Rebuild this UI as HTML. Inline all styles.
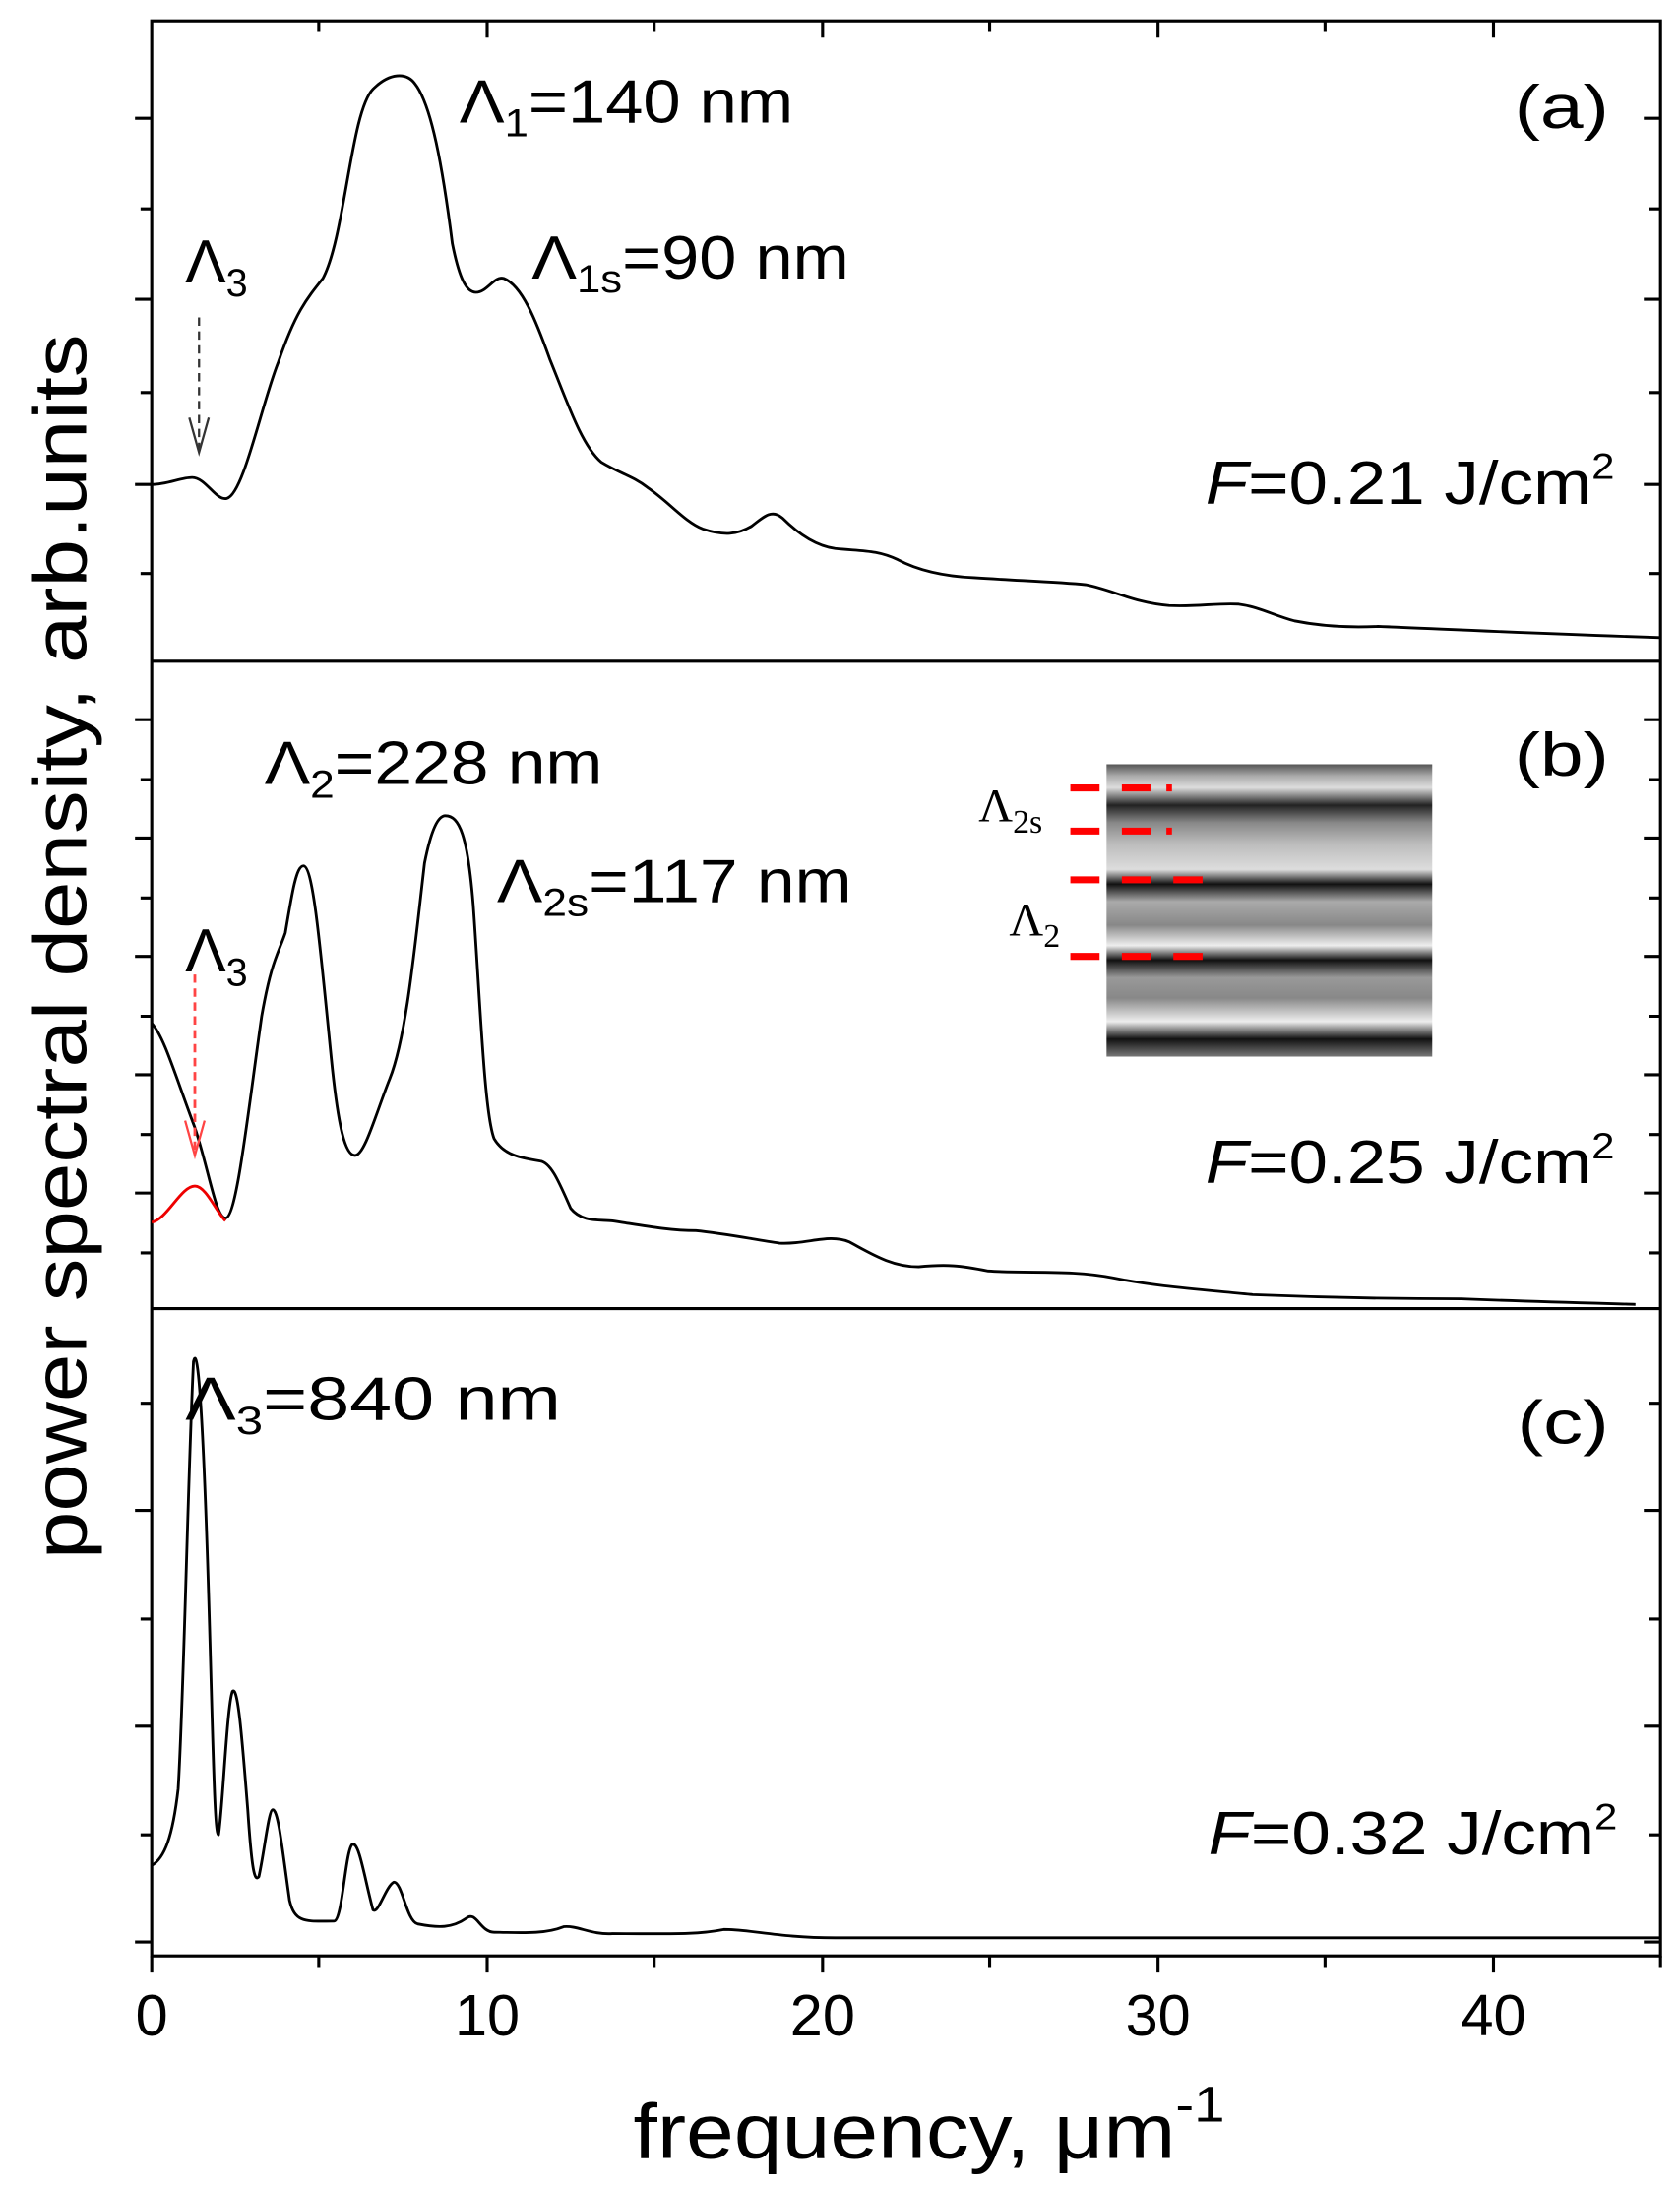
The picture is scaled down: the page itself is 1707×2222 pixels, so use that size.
<!DOCTYPE html>
<html><head><meta charset="utf-8"><style>
html,body{margin:0;padding:0;background:#fff;}
svg{display:block;}
text{font-family:"Liberation Sans",sans-serif;fill:#000;}
</style></head><body>
<svg width="1707" height="2222" viewBox="0 0 1207 1571" preserveAspectRatio="none" xmlns="http://www.w3.org/2000/svg">
<defs>
<linearGradient id="st" x1="0" y1="0" x2="0" y2="1">
<stop offset="0" stop-color="#555"/><stop offset="0.04" stop-color="#aaa"/><stop offset="0.08" stop-color="#ddd"/><stop offset="0.14" stop-color="#222"/>
<stop offset="0.2" stop-color="#888"/><stop offset="0.27" stop-color="#bbb"/><stop offset="0.36" stop-color="#ddd"/><stop offset="0.41" stop-color="#111"/>
<stop offset="0.47" stop-color="#aaa"/><stop offset="0.55" stop-color="#888"/><stop offset="0.62" stop-color="#eee"/><stop offset="0.67" stop-color="#111"/>
<stop offset="0.73" stop-color="#999"/><stop offset="0.8" stop-color="#888"/><stop offset="0.88" stop-color="#eee"/><stop offset="0.94" stop-color="#111"/><stop offset="1" stop-color="#777"/>
</linearGradient>
</defs>
<g stroke="#000" stroke-width="2.2" fill="none">
<rect x="109" y="15" width="1084" height="1390"/>
<line x1="109" y1="475" x2="1193" y2="475"/>
<line x1="109" y1="940" x2="1193" y2="940"/>
<path d="M97 85H109M101 150H109M97 215H109M101 282H109M97 348H109M101 412H109
M1181 85H1193M1185 150H1193M1181 215H1193M1185 282H1193M1181 348H1193M1185 412H1193
M97 517H109M101 560H109M97 602H109M101 645H109M97 687H109M101 730H109M97 772H109M101 815H109M97 857H109M101 900H109
M1181 517H1193M1185 560H1193M1181 602H1193M1185 645H1193M1181 687H1193M1185 730H1193M1181 772H1193M1185 815H1193M1181 857H1193M1185 900H1193
M97 1085H109M101 1008H109M97 1240H109M101 1163H109M97 1395H109M101 1318H109
M1181 1085H1193M1185 1008H1193M1181 1240H1193M1185 1163H1193M1181 1395H1193M1185 1318H1193
M109 1405V1417M229 1405V1413M350 1405V1417M470 1405V1413M591 1405V1417M711 1405V1413M832 1405V1417M952 1405V1413M1073 1405V1417M1193 1405V1413
M229 15V23M350 15V27M470 15V23M591 15V27M711 15V23M832 15V27M952 15V23M1073 15V27"/>
</g>
<g stroke="#000" stroke-width="2" fill="none" stroke-linejoin="round">
<path d="M109 348 C120 348,130 343,138 343 C148 343,155 360,163 358 C175 355,188 290,200 260 C212 225,220 215,232 200 C248 170,252 80,268 64 C280 52,292 52,298 60 C310 75,318 120,325 175 C330 200,335 210,342 210 C350 210,355 198,362 200 C375 205,385 230,395 258 C408 290,418 320,432 332 C445 340,455 342,465 350 C480 360,492 375,505 380 C520 385,530 384,540 378 C550 370,555 366,562 372 C572 382,585 392,600 394 C620 396,630 395,645 402 C660 410,680 414,700 415 C730 417,760 418,780 420 C800 424,815 433,840 435 C860 436,875 433,890 434 C905 436,915 442,930 446 C950 450,970 451,990 450 C1040 452,1100 455,1193 458"/>
<path d="M109 735 C118 745,125 770,140 810 C150 840,155 875,162 875 C170 875,178 800,188 730 C195 690,200 685,205 670 C210 640,213 622,218 622 C225 622,230 680,238 760 C243 810,248 830,255 830 C262 830,270 800,280 775 C292 745,298 680,305 620 C310 595,315 586,320 586 C330 586,336 600,340 650 C345 720,348 800,355 818 C362 830,375 832,388 834 C396 835,402 850,410 868 C418 878,430 876,440 877 C460 880,480 884,500 884 C520 886,540 890,560 893 C580 894,595 886,610 892 C625 900,640 910,660 910 C680 908,690 909,710 913 C740 915,770 912,800 918 C830 924,860 926,900 930 C950 932,1000 933,1050 933 C1100 935,1140 936,1175 937"/>
<path d="M109 1340 C118 1335,124 1320,128 1285 C132 1220,135 1060,139 978 C143 960,147 1050,150 1150 C153 1250,154 1318,157 1318 C160 1300,163 1225,167 1215 C171 1210,174 1250,178 1300 C181 1345,183 1352,186 1348 C190 1330,193 1300,196 1300 C200 1300,203 1330,208 1365 C212 1382,220 1380,240 1380 C246 1380,248 1330,253 1325 C258 1322,262 1350,268 1372 C272 1375,277 1355,283 1352 C289 1352,292 1380,300 1382 C315 1385,325 1385,335 1378 C342 1372,345 1388,355 1388 C370 1388,390 1390,405 1384 C415 1383,425 1390,440 1389 C480 1389,500 1390,520 1386 C540 1386,560 1392,600 1392 C800 1392,1000 1392,1193 1392"/>
</g>
<path d="M109 878 C120 876,130 852,140 852 C148 852,155 870,162 877" stroke="#e00" stroke-width="2" fill="none"/>
<g fill="none" stroke-width="1.6">
<path d="M143 228V322" stroke="#333" stroke-dasharray="6,4"/>
<path d="M136 300L143 325L150 300" stroke="#333"/>
<path d="M140 700V830" stroke="#f44" stroke-dasharray="6,4" stroke-width="2"/>
<path d="M133 805L140 830L147 805" stroke="#f44"/>
</g>
<rect x="795" y="549" width="234" height="210" fill="url(#st)"/>
<g stroke="#f00" stroke-width="5">
<path d="M769 566H790M806 566H827M838 566H842M769 597H790M806 597H827M838 597H842M769 632H790M806 632H827M843 632H864M769 687H790M806 687H827M843 687H864"/>
</g>
<g font-size="44">
<text x="330" y="88" textLength="240" lengthAdjust="spacingAndGlyphs">Λ<tspan font-size="28" dy="10">1</tspan><tspan dy="-10">=140 nm</tspan></text>
<text x="382" y="200" textLength="228" lengthAdjust="spacingAndGlyphs">Λ<tspan font-size="28" dy="10">1s</tspan><tspan dy="-10">=90 nm</tspan></text>
<text x="1088" y="92" textLength="68" lengthAdjust="spacingAndGlyphs">(a)</text>
<text x="133" y="203">Λ<tspan font-size="28" dy="10">3</tspan></text>
<text x="866" y="362" textLength="294" lengthAdjust="spacingAndGlyphs"><tspan font-style="italic">F</tspan>=0.21 J/cm<tspan font-size="26" dy="-18">2</tspan></text>
<text x="190" y="563" textLength="243" lengthAdjust="spacingAndGlyphs">Λ<tspan font-size="28" dy="10">2</tspan><tspan dy="-10">=228 nm</tspan></text>
<text x="357" y="648" textLength="255" lengthAdjust="spacingAndGlyphs">Λ<tspan font-size="28" dy="10">2s</tspan><tspan dy="-10">=117 nm</tspan></text>
<text x="1088" y="557" textLength="68" lengthAdjust="spacingAndGlyphs">(b)</text>
<text x="133" y="698">Λ<tspan font-size="28" dy="10">3</tspan></text>
<text x="866" y="850" textLength="294" lengthAdjust="spacingAndGlyphs"><tspan font-style="italic">F</tspan>=0.25 J/cm<tspan font-size="26" dy="-18">2</tspan></text>
<text x="133" y="1020" textLength="270" lengthAdjust="spacingAndGlyphs">Λ<tspan font-size="28" dy="10">3</tspan><tspan dy="-10">=840 nm</tspan></text>
<text x="1090" y="1037" textLength="66" lengthAdjust="spacingAndGlyphs">(c)</text>
<text x="868" y="1332" textLength="294" lengthAdjust="spacingAndGlyphs"><tspan font-style="italic">F</tspan>=0.32 J/cm<tspan font-size="26" dy="-18">2</tspan></text>
</g>
<g font-size="34">
<text x="703" y="590" style="font-family:'Liberation Serif',serif">Λ<tspan font-size="24" dy="8">2s</tspan></text>
<text x="725" y="672" style="font-family:'Liberation Serif',serif">Λ<tspan font-size="24" dy="8">2</tspan></text>
</g>
<g font-size="42" text-anchor="middle">
<text x="109" y="1462">0</text><text x="350" y="1462">10</text><text x="591" y="1462">20</text><text x="832" y="1462">30</text><text x="1073" y="1462">40</text>
</g>
<text x="455" y="1550" font-size="56" textLength="425" lengthAdjust="spacingAndGlyphs">frequency, μm<tspan font-size="36" dy="-26">-1</tspan></text>
<text transform="translate(62,1120) rotate(-90)" font-size="54" textLength="880" lengthAdjust="spacingAndGlyphs">power spectral density, arb.units</text>
</svg>
</body></html>
